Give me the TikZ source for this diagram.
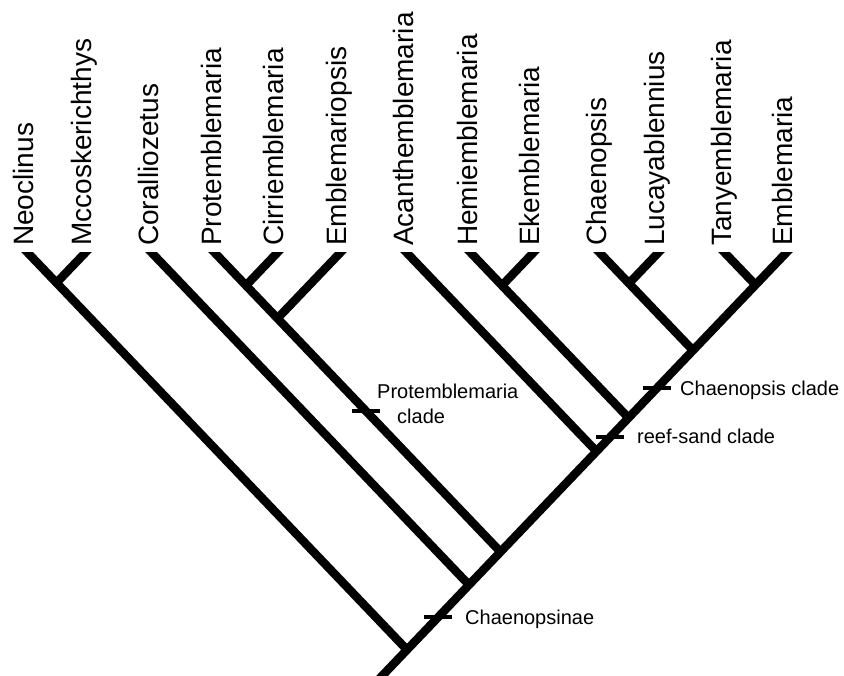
\documentclass[tikz,border=0pt]{standalone}
\usepackage{fontspec}
\setmainfont{Liberation Sans}
\tikzset{
  taxon/.style={rotate=90, anchor=base west, inner sep=0pt, font=\fontsize{28}{30}\selectfont},
  clade/.style={anchor=base west, inner sep=0pt, font=\fontsize{20}{25}\selectfont},
  branch/.style={line width=8.5pt},
  cladetick/.style={line width=3.5pt},
}
\begin{document}
\begin{tikzpicture}[x=1pt,y=-1pt]
        \useasboundingbox (0,0) rectangle (844,676);
        \path (28,253) coordinate (neo) ++(6,-7) node [taxon] (neo-l) {Neoclinus};
        \path (85,253) coordinate (mcc) ++(6,-7) node [taxon] (mcc-l) {Mccoskerichthys};
        \path (152,253) coordinate (cor) ++(6,-7) node [taxon] (cor-l) {Coralliozetus};
        \path (215,253) coordinate (pro) ++(6,-7) node [taxon] (pro-l) {Protemblemaria};
        \path (277,253) coordinate (cir) ++(6,-7) node [taxon] (cir-l) {Cirriemblemaria};
        \path (340,253) coordinate (eop) ++(6,-7) node [taxon] (eop-l) {Emblemariopsis};
        \path (407,253) coordinate (aca) ++(6,-7) node [taxon] (aca-l) {Acanthemblemaria};
        \path (471,253) coordinate (hem) ++(6,-7) node [taxon] (hem-l) {Hemiemblemaria};
        \path (533,253) coordinate (eke) ++(6,-7) node [taxon] (eke-l) {Ekemblemaria};
        \path (600,253) coordinate (cha) ++(6,-7) node [taxon] (cha-l) {Chaenopsis};
        \path (658,253) coordinate (luc) ++(6,-7) node [taxon] (luc-l) {Lucayablennius};
        \path (725,253) coordinate (tan) ++(6,-7) node [taxon] (tan-l) {Tanyemblemaria};
        \path (786,253) coordinate (emb) ++(6,-7) node [taxon] (emb-l) {Emblemaria};
        % internal nodes
        \coordinate (n1) at (56.5,282.8);
        \coordinate (n2) at (246,285.5);
        \coordinate (n3) at (277.5,318.4);
        \coordinate (n4) at (502,285.5);
        \coordinate (n5) at (629,283.4);
        \coordinate (jcha) at (693,350.4);
        \coordinate (jhem) at (628.5,417.9);
        \coordinate (jaca) at (596.5,451.4);
        \coordinate (jpro) at (500.5,551.9);
        \coordinate (jcor) at (469,584.9);
        \coordinate (jneo) at (407,649.8);
        \coordinate (n6) at (755.5,284.9);
        \coordinate (root) at (368.6,690);
        \begin{scope}
            \clip (0,253) rectangle (844,676);
            \draw [branch, shorten <=-14pt] (emb) -- (root);
            \draw [branch, shorten <=-14pt] (neo) -- (n1) -- (jneo);
            \draw [branch, shorten <=-14pt] (mcc) -- (n1);
            \draw [branch, shorten <=-14pt] (cor) -- (jcor);
            \draw [branch, shorten <=-14pt] (pro) -- (n2) -- (n3) -- (jpro);
            \draw [branch, shorten <=-14pt] (cir) -- (n2);
            \draw [branch, shorten <=-14pt] (eop) -- (n3);
            \draw [branch, shorten <=-14pt] (aca) -- (jaca);
            \draw [branch, shorten <=-14pt] (hem) -- (n4) -- (jhem);
            \draw [branch, shorten <=-14pt] (eke) -- (n4);
            \draw [branch, shorten <=-14pt] (cha) -- (n5) -- (jcha);
            \draw [branch, shorten <=-14pt] (luc) -- (n5);
            \draw [branch, shorten <=-14pt] (tan) -- (n6);
        \end{scope}
        % clade marks
        \coordinate (t-chp) at (438,617);
        \coordinate (t-pro) at (366,411);
        \coordinate (t-rs) at (610,437);
        \coordinate (t-cha) at (657,388);
        \draw [cladetick] (t-chp) ++(-14,0) -- ++(28,0);
        \draw [cladetick] (t-pro) ++(-14,0) -- ++(28,0);
        \draw [cladetick] (t-rs) ++(-14,0) -- ++(28,0);
        \draw [cladetick] (t-cha) ++(-14,0) -- ++(28,0);
        \node [clade] (chp-l) at (465,624) {Chaenopsinae};
        \node [clade, anchor=north west, align=left] (pro-cl) at (377,384) {Protemblemaria\\\hspace*{20pt}clade};
        \node [clade] (rs-l) at (637,443) {reef-sand clade};
        \node [clade] (cha-cl) at (680,396) {Chaenopsis clade};
\end{tikzpicture}
\end{document}
